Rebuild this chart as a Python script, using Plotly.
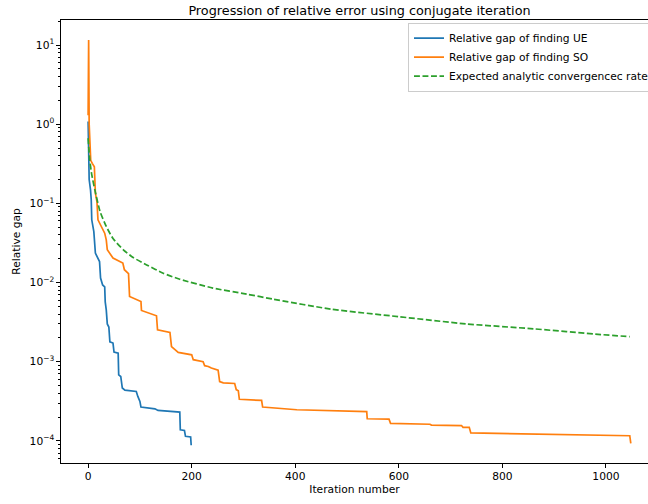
import plotly.graph_objects as go

# ---- data ----
ue_iter = [0, 2, 4.6, 6, 7, 11, 14, 19, 22, 24, 28, 32, 33, 35, 37, 40, 42, 48, 50, 58, 59, 63,
           66, 71, 93, 96, 100, 102, 129, 135, 177, 178, 186, 188, 198, 199]
ue_gap = [1.08, 0.20, 0.148, 0.111, 0.062, 0.044, 0.0235, 0.0204, 0.0184, 0.0114, 0.0093, 0.0088,
          0.0057, 0.0045, 0.0030, 0.00274, 0.00178, 0.00172, 0.00132, 0.00128, 0.00068, 0.00065,
          0.000465, 0.000436, 0.00042, 0.000364, 0.000315, 0.000267, 0.000254, 0.000242, 0.000231,
          0.000138, 0.000135, 0.000114, 0.000112, 0.000088]

so_iter = [0, 1, 2, 3, 5, 8, 12, 14, 17, 19, 27, 32, 35, 37, 48, 55, 67, 70, 78, 80, 93, 102, 103,
           132, 134, 158, 161, 174, 200, 203, 222, 225, 232, 238, 251, 254, 261, 283, 286, 290, 292,
           335, 337, 383, 403, 538, 539, 581, 584, 660, 663, 721, 724, 736, 739, 1046, 1048]
so_gap = [1.3, 11.6, 1.0, 0.63, 0.35, 0.32, 0.29, 0.134, 0.105, 0.062, 0.0486, 0.042, 0.0346, 0.0259,
          0.0204, 0.0194, 0.0176, 0.0145, 0.0129, 0.00665, 0.00605, 0.00575, 0.00443, 0.0038, 0.00253,
          0.00234, 0.00155, 0.00131, 0.00122, 0.00106, 0.00100, 0.00089, 0.00087, 0.00083, 0.00078,
          0.00056, 0.00054, 0.00053, 0.000444, 0.00043, 0.000335, 0.000324, 0.000267, 0.000254,
          0.000247, 0.000234, 0.00019, 0.000188, 0.000166, 0.000162, 0.000158, 0.000156, 0.000148,
          0.000148, 0.000126, 0.000116, 0.000093]

rate_iter = [0, 3, 7, 13, 23, 35, 48, 68, 87, 113, 145, 177, 241, 306, 357, 470, 600, 730, 860,
             990, 1046]
rate_val = [0.665, 0.36, 0.23, 0.148, 0.079, 0.051, 0.036, 0.0259, 0.0207, 0.0167, 0.0131, 0.0110,
            0.0085, 0.00713, 0.00617, 0.0046, 0.0037, 0.0030, 0.0026, 0.0022, 0.00207]

x_ticks = [0, 200, 400, 600, 800, 1000]
y_tick_exp = [-4, -3, -2, -1, 0, 1]
y_tick_text = ["10<sup>\u22124</sup>", "10<sup>\u22123</sup>", "10<sup>\u22122</sup>",
               "10<sup>\u22121</sup>", "10<sup>0</sup>", "10<sup>1</sup>"]

FONT = "DejaVu Sans"
FS = 10.7
W, H = 648, 504
L, T, B = 61, 20, 41

fig = go.Figure()
fig.add_trace(go.Scatter(x=ue_iter, y=ue_gap, mode="lines", name="Relative gap of finding UE",
                         line=dict(color="#1f77b4", width=1.7)))
fig.add_trace(go.Scatter(x=so_iter, y=so_gap, mode="lines", name="Relative gap of finding SO",
                         line=dict(color="#ff7f0e", width=1.7)))
fig.add_trace(go.Scatter(x=rate_iter, y=rate_val, mode="lines", line_shape="spline",
                         name="Expected analytic convergencec rate",
                         line=dict(color="#2ca02c", width=1.7, dash="5.9px,2.6px", smoothing=0.6)))

minor_vals = [m * 10 ** e for e in range(-5, 2) for m in range(2, 10)]

fig.update_layout(
    width=W, height=H, autosize=False,
    margin=dict(l=L, r=0, t=T, b=B, pad=0, autoexpand=False),
    paper_bgcolor="white", plot_bgcolor="white",
    font=dict(family=FONT, size=FS, color="black"),
    title=dict(text="Progression of relative error using conjugate iteration",
               font=dict(family=FONT, size=12.8, color="black"),
               x=359.5 / W, xref="container", xanchor="center",
               y=1 - 10.5 / H, yref="container", yanchor="middle"),
    showlegend=True,
    legend=dict(x=(408 - L) / (W - L), y=0.994, xanchor="left", yanchor="top",
                bgcolor="white", bordercolor="#cccccc", borderwidth=1,
                font=dict(family=FONT, size=FS, color="black")),
    xaxis=dict(range=[-52.4, 1081.2], tickmode="array", tickvals=x_ticks,
               ticks="outside", ticklen=3.7, tickwidth=0.85, tickcolor="black",
               showline=True, linecolor="black", linewidth=0.85, mirror=True,
               showgrid=False, zeroline=False, automargin=False,
               title=dict(text="Iteration number", font=dict(family=FONT, size=FS), standoff=3)),
    yaxis=dict(type="log", range=[-4.28, 1.316], tickmode="array",
               tickvals=[10 ** e for e in y_tick_exp], ticktext=y_tick_text,
               ticks="outside", ticklen=3.7, tickwidth=0.85, tickcolor="black",
               showline=True, linecolor="black", linewidth=0.85,
               showgrid=False, zeroline=False, automargin=False,
               minor=dict(tickmode="array", tickvals=minor_vals, ticks="outside",
                          ticklen=2.1, tickwidth=0.6, tickcolor="black", showgrid=False),
               title=dict(text="Relative gap", font=dict(family=FONT, size=FS), standoff=6)),
)

fig.write_html("out.html", config={"displayModeBar": False},
               post_script="document.body.style.margin='0';document.body.style.overflow='hidden';")
